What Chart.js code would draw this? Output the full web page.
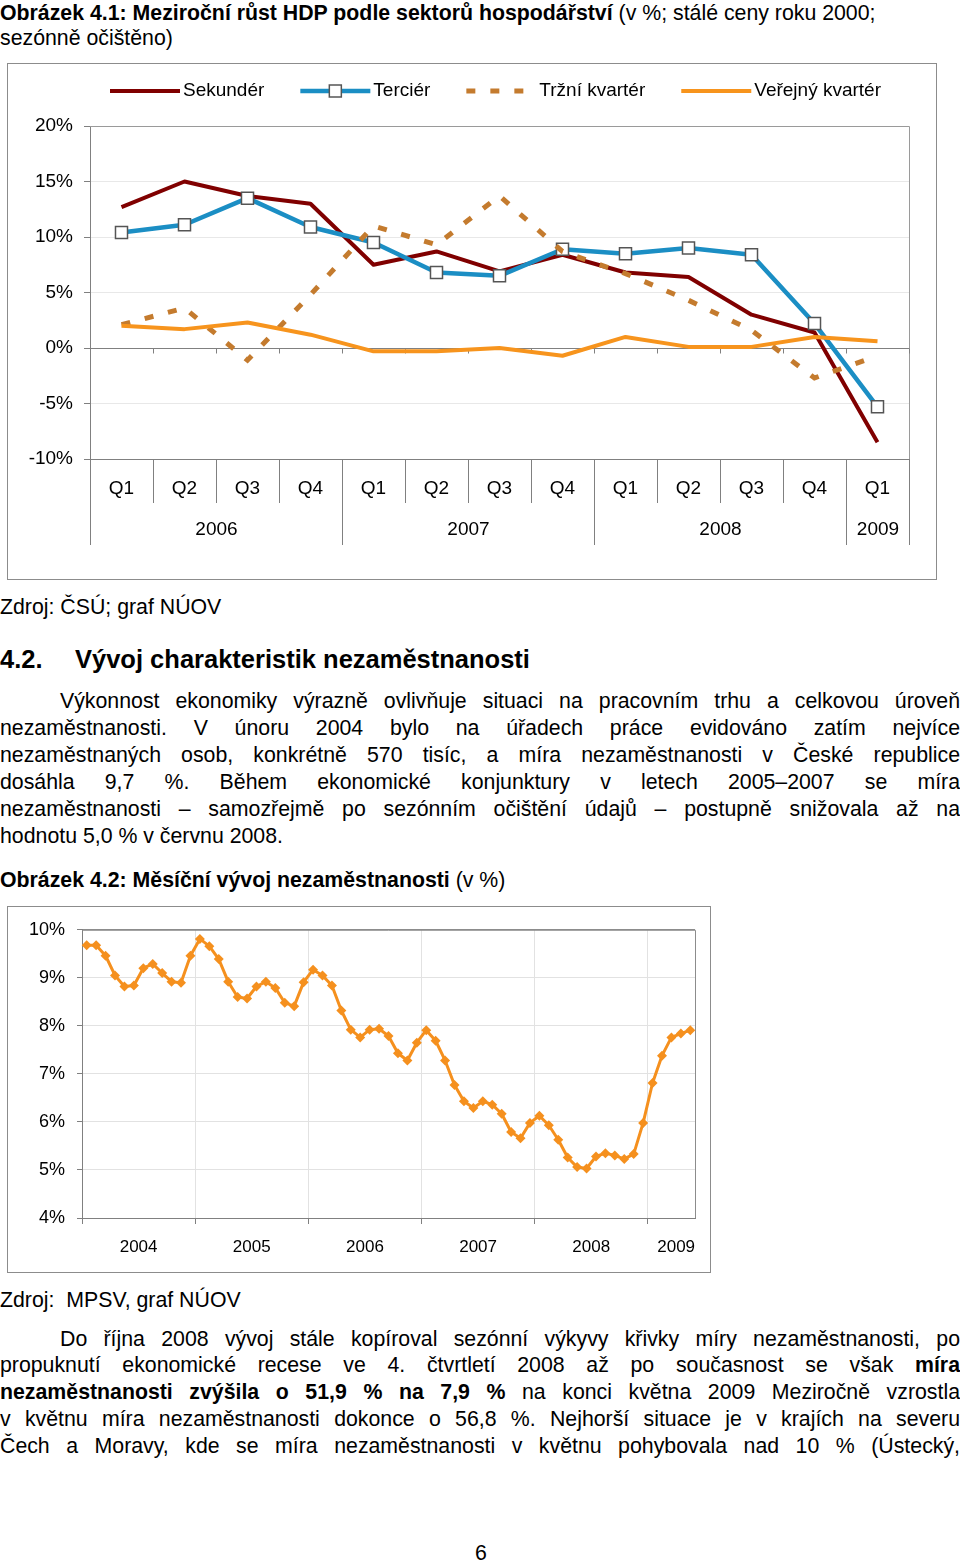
<!DOCTYPE html>
<html lang="cs">
<head>
<meta charset="utf-8">
<script src="https://cdn.jsdelivr.net/npm/chart.js@4.4.1/dist/chart.umd.min.js"></script>
<style>
body { margin:0; width:960px; height:1561px; background:#fff; font-family:"Liberation Sans", Arial, sans-serif; color:#000; position:relative; overflow:hidden; }
.t { position:absolute; left:0; width:960px; font-size:21.3px; line-height:27px; white-space:nowrap; }
.j div { text-align:justify; text-align-last:justify; white-space:normal; }
.j div.last { text-align-last:left; }
.j div.first { text-indent:60px; }
.box { position:absolute; border:1px solid #8c8c8c; }
.box canvas { display:block; }
</style>
</head>
<body>
<div class="t" style="top:0px"><b>Obrázek 4.1: Meziroční růst HDP podle sektorů hospodářství</b> (v %; stálé ceny roku 2000;</div>
<div class="t" style="top:24.5px">sezónně očištěno)</div>

<div class="box" style="left:7px;top:63px;width:928px;height:515px">
  <canvas id="gdp" width="928" height="515"></canvas>
</div>

<div class="t" style="top:594px">Zdroj: ČSÚ; graf NÚOV</div>
<div class="t" style="top:644px;font-size:25.5px;line-height:30px;font-weight:bold">4.2.<span style="position:absolute;left:75px">Vývoj charakteristik nezaměstnanosti</span></div>

<div class="t j" style="top:687.5px">
  <div class="first">Výkonnost ekonomiky výrazně ovlivňuje situaci na pracovním trhu a celkovou úroveň</div>
  <div>nezaměstnanosti. V únoru 2004 bylo na úřadech práce evidováno zatím nejvíce</div>
  <div>nezaměstnaných osob, konkrétně 570 tisíc, a míra nezaměstnanosti v České republice</div>
  <div>dosáhla 9,7 %. Během ekonomické konjunktury v letech 2005–2007 se míra</div>
  <div>nezaměstnanosti – samozřejmě po sezónním očištění údajů – postupně snižovala až na</div>
  <div class="last">hodnotu 5,0 % v červnu 2008.</div>
</div>

<div class="t" style="top:867px"><b>Obrázek 4.2: Měsíční vývoj nezaměstnanosti</b> (v %)</div>

<div class="box" style="left:7px;top:906px;width:702px;height:365px">
  <canvas id="unemp" width="702" height="365"></canvas>
</div>

<div class="t" style="top:1287px">Zdroj:&nbsp; MPSV, graf NÚOV</div>

<div class="t j" style="top:1325.5px;line-height:26.8px">
  <div class="first">Do října 2008 vývoj stále kopíroval sezónní výkyvy křivky míry nezaměstnanosti, po</div>
  <div>propuknutí ekonomické recese ve 4. čtvrtletí 2008 až po současnost se však <b>míra</b></div>
  <div><b>nezaměstnanosti zvýšila o 51,9 % na 7,9 %</b> na konci května 2009 Meziročně vzrostla</div>
  <div>v květnu míra nezaměstnanosti dokonce o 56,8 %. Nejhorší situace je v krajích na severu</div>
  <div>Čech a Moravy, kde se míra nezaměstnanosti v květnu pohybovala nad 10 % (Ústecký,</div>
</div>

<div class="t" style="top:1540px;text-align:center;width:962px">6</div>

<script>
// --- obrázek 4.1 data ---
const quarters = ['Q1','Q2','Q3','Q4','Q1','Q2','Q3','Q4','Q1','Q2','Q3','Q4','Q1'];
const quarterYears = ['2006','2007','2008','2009'];
const quartersInYear = [4, 4, 4, 1];
const sekunder = [12.7, 15.0, 13.7, 13.0, 7.5, 8.7, 6.9, 8.4, 6.8, 6.4, 3.0, 1.4, -8.5];
const tercier = [10.4, 11.1, 13.5, 10.9, 9.5, 6.8, 6.5, 8.9, 8.5, 9.0, 8.4, 2.2, -5.3];
const trzniKvarter = [2.1, 3.6, -1.1, 4.8, 11.0, 9.3, 13.7, 8.7, 6.7, 4.3, 1.6, -2.7, -0.7];
const verejnyKvarter = [2.0, 1.7, 2.3, 1.2, -0.3, -0.3, 0.0, -0.7, 1.0, 0.1, 0.1, 1.0, 0.6];

// --- obrázek 4.2 data (měsíčně, leden 2004 - květen 2009) ---
const years = ['2004','2005','2006','2007','2008','2009'];
const yearLabelPos = [6, 18, 30, 42, 54, 63];
const rate2004 = [9.68, 9.68, 9.46, 9.05, 8.82, 8.84, 9.20, 9.29, 9.10, 8.92, 8.90, 9.46];
const rate2005 = [9.81, 9.66, 9.39, 8.92, 8.60, 8.57, 8.82, 8.92, 8.79, 8.48, 8.41, 8.91];
const rate2006 = [9.17, 9.05, 8.84, 8.32, 7.92, 7.76, 7.92, 7.94, 7.79, 7.43, 7.28, 7.65];
const rate2007 = [7.91, 7.69, 7.28, 6.77, 6.43, 6.29, 6.43, 6.36, 6.17, 5.79, 5.66, 5.98];
const rate2008 = [6.13, 5.93, 5.63, 5.26, 5.06, 5.03, 5.28, 5.35, 5.30, 5.23, 5.33, 5.98];
const rate2009 = [6.81, 7.38, 7.76, 7.84, 7.91];

const FONT = '"Liberation Sans", Arial, sans-serif';
Chart.defaults.font.family = FONT;
Chart.defaults.color = '#000';
Chart.defaults.animation = false;

function draw_gdp() {
    const gdpExtras = {
        id: 'gdpExtras',
        beforeDatasetsDraw(chart) {
            const a = chart.chartArea, c = chart.ctx;
            const xs = chart.scales.x, ys = chart.scales.y;
            c.save();
            c.strokeStyle = '#9a9a9a';
            c.lineWidth = 1;
            c.beginPath();
            c.moveTo(a.left, a.top + 0.5); c.lineTo(a.right + 0.5, a.top + 0.5);
            c.lineTo(a.right + 0.5, a.bottom);
            c.stroke();
            // ticks on the 0% line
            const step = xs.getPixelForValue(1) - xs.getPixelForValue(0);
            const y0 = Math.round(ys.getPixelForValue(0)) + 0.5;
            c.strokeStyle = '#808080';
            c.beginPath();
            for (let i = 0; i <= quarters.length; i++) {
                const x = Math.round(xs.getPixelForValue(i) - step / 2) + 0.5;
                c.moveTo(x, y0); c.lineTo(x, y0 + 5);
            }
            c.stroke();
            c.restore();
        },
        afterDraw(chart) {
            const a = chart.chartArea, c = chart.ctx;
            const xs = chart.scales.x;
            const step = xs.getPixelForValue(1) - xs.getPixelForValue(0);
            const edge = i => Math.round(xs.getPixelForValue(i) - step / 2) + 0.5;
            c.save();
            c.strokeStyle = '#808080';
            c.lineWidth = 1;
            // dividers between categories and years
            const yearEdges = [0];
            quartersInYear.forEach(n => yearEdges.push(yearEdges[yearEdges.length - 1] + n));
            c.beginPath();
            for (let i = 0; i <= quarters.length; i++) {
                const long = yearEdges.includes(i);
                c.moveTo(edge(i), a.bottom);
                c.lineTo(edge(i), a.bottom + (long ? 86 : 44));
            }
            c.stroke();
            c.fillStyle = '#000';
            c.font = '19px ' + FONT;
            c.textAlign = 'center';
            c.textBaseline = 'middle';
            quarterYears.forEach((yr, k) => {
                const x = (edge(yearEdges[k]) + edge(yearEdges[k + 1])) / 2;
                c.fillText(yr, x, a.bottom + 71);
            });
            // legend
            let x = 102;
            const ly = 27;
            chart.data.datasets.forEach(ds => {
                c.save();
                c.strokeStyle = ds.borderColor;
                c.lineWidth = ds.borderWidth;
                c.setLineDash(ds.borderDash || []);
                c.beginPath();
                c.moveTo(x, ly); c.lineTo(x + 70, ly);
                c.stroke();
                if (ds.pointStyle === 'rect') {
                    c.setLineDash([]);
                    c.fillStyle = ds.pointBackgroundColor;
                    c.strokeStyle = ds.pointBorderColor;
                    c.lineWidth = ds.pointBorderWidth;
                    c.fillRect(x + 29, ly - 6, 12, 12);
                    c.strokeRect(x + 29, ly - 6, 12, 12);
                }
                c.restore();
                c.textAlign = 'left';
                c.fillText(ds.label, x + 73, ly);
                x += 73 + c.measureText(ds.label).width + 36;
            });
            c.restore();
        }
    };

    new Chart(document.getElementById('gdp'), {
        type: 'line',
        data: {
            labels: quarters,
            datasets: [
                { label: 'Sekundér', data: sekunder, borderColor: '#800000', borderWidth: 4, pointRadius: 0, order: 3, borderJoinStyle: 'round' },
                { label: 'Terciér', data: tercier, borderColor: '#1b8ec4', borderWidth: 4.5, pointStyle: 'rect', pointRadius: 8.5,
                  pointBackgroundColor: '#fff', pointBorderColor: '#555', pointBorderWidth: 1.5, order: 2, borderJoinStyle: 'round' },
                { label: 'Tržní kvartér', data: trzniKvarter, borderColor: '#c47b2e', borderWidth: 5, borderDash: [9, 15], pointRadius: 0, order: 1 },
                { label: 'Veřejný kvartér', data: verejnyKvarter, borderColor: '#f7941d', borderWidth: 4, pointRadius: 0, order: 0, borderJoinStyle: 'round' }
            ]
        },
        options: {
            responsive: false,
            layout: { padding: { top: 62, right: 27, left: 0, bottom: 0 } },
            plugins: { legend: { display: false }, tooltip: { enabled: false } },
            scales: {
                x: {
                    offset: true,
                    grid: { display: true, drawOnChartArea: false, drawTicks: false },
                    border: { color: '#808080' },
                    ticks: { font: { size: 19 }, color: '#000', padding: 18, autoSkip: false, maxRotation: 0 },
                    afterFit: s => { s.height = 120; }
                },
                y: {
                    min: -10, max: 20,
                    ticks: { stepSize: 5, callback: v => v + '%', font: { size: 19 }, color: '#000', padding: 11 },
                    grid: {
                        color: c => c.tick.value === 0 ? '#808080' : (c.tick.value === -10 ? '#808080' : (c.tick.value === 20 ? '#9a9a9a' : '#e8e8e8')),
                        tickColor: '#808080', tickLength: 6
                    },
                    border: { color: '#808080' },
                    afterFit: s => { s.width = 82; }
                }
            }
        },
        plugins: [gdpExtras]
    });
}

function draw_unemployment() {
    const months = [];
    const rates = [rate2004, rate2005, rate2006, rate2007, rate2008, rate2009];
    rates.forEach((arr, k) => arr.forEach((v, m) => months.push((m + 1) + '/' + years[k])));
    const values = [].concat(...rates);

    const frame = {
        id: 'frame',
        beforeDatasetsDraw(chart) {
            const a = chart.chartArea, c = chart.ctx;
            c.save();
            c.strokeStyle = '#8c8c8c';
            c.lineWidth = 1;
            c.beginPath();
            c.moveTo(a.left, a.top + 0.5); c.lineTo(a.right + 0.5, a.top + 0.5);
            c.lineTo(a.right + 0.5, a.bottom);
            c.stroke();
            c.restore();
        }
    };

    new Chart(document.getElementById('unemp'), {
        type: 'line',
        data: {
            labels: months,
            datasets: [{
                label: 'Míra nezaměstnanosti',
                data: values,
                borderColor: '#f5901e',
                borderWidth: 3,
                pointStyle: 'rectRot',
                pointRadius: 5,
                pointBackgroundColor: '#f5901e',
                pointBorderWidth: 0,
                borderJoinStyle: 'round'
            }]
        },
        options: {
            responsive: false,
            layout: { padding: { top: 21, right: 15, left: 0, bottom: 0 } },
            plugins: { legend: { display: false }, tooltip: { enabled: false } },
            scales: {
                x: {
                    offset: true,
                    weight: 0,
                    grid: {
                        offset: true,
                        color: c => (c.index % 12 === 0 && c.index > 0) ? '#e2e2e2' : 'rgba(0,0,0,0)',
                        tickColor: c => (c.index % 12 === 0) ? '#808080' : 'rgba(0,0,0,0)',
                        tickLength: 6
                    },
                    border: { color: '#808080' },
                    ticks: { display: false, autoSkip: false },
                    afterFit: s => { s.height = 6; }
                },
                xYear: {
                    type: 'linear',
                    position: 'bottom',
                    weight: 1,
                    min: 0, max: months.length,
                    grid: { display: false },
                    border: { display: false },
                    afterBuildTicks: s => { s.ticks = yearLabelPos.map(v => ({ value: v })); },
                    ticks: { autoSkip: false, maxRotation: 0, padding: 5, font: { size: 17 }, color: '#000',
                             callback: (v, i) => years[i] },
                    afterFit: s => { s.height = 48; }
                },
                y: {
                    min: 4, max: 10,
                    ticks: { stepSize: 1, callback: v => v + '%', font: { size: 18 }, color: '#000', padding: 12 },
                    grid: { color: c => c.tick.value === 10 ? '#8c8c8c' : '#e2e2e2', tickColor: '#808080', tickLength: 5 },
                    border: { color: '#808080' },
                    afterFit: s => { s.width = 74; }
                }
            }
        },
        plugins: [frame]
    });
}

draw_gdp();
draw_unemployment();
</script>
</body>
</html>
